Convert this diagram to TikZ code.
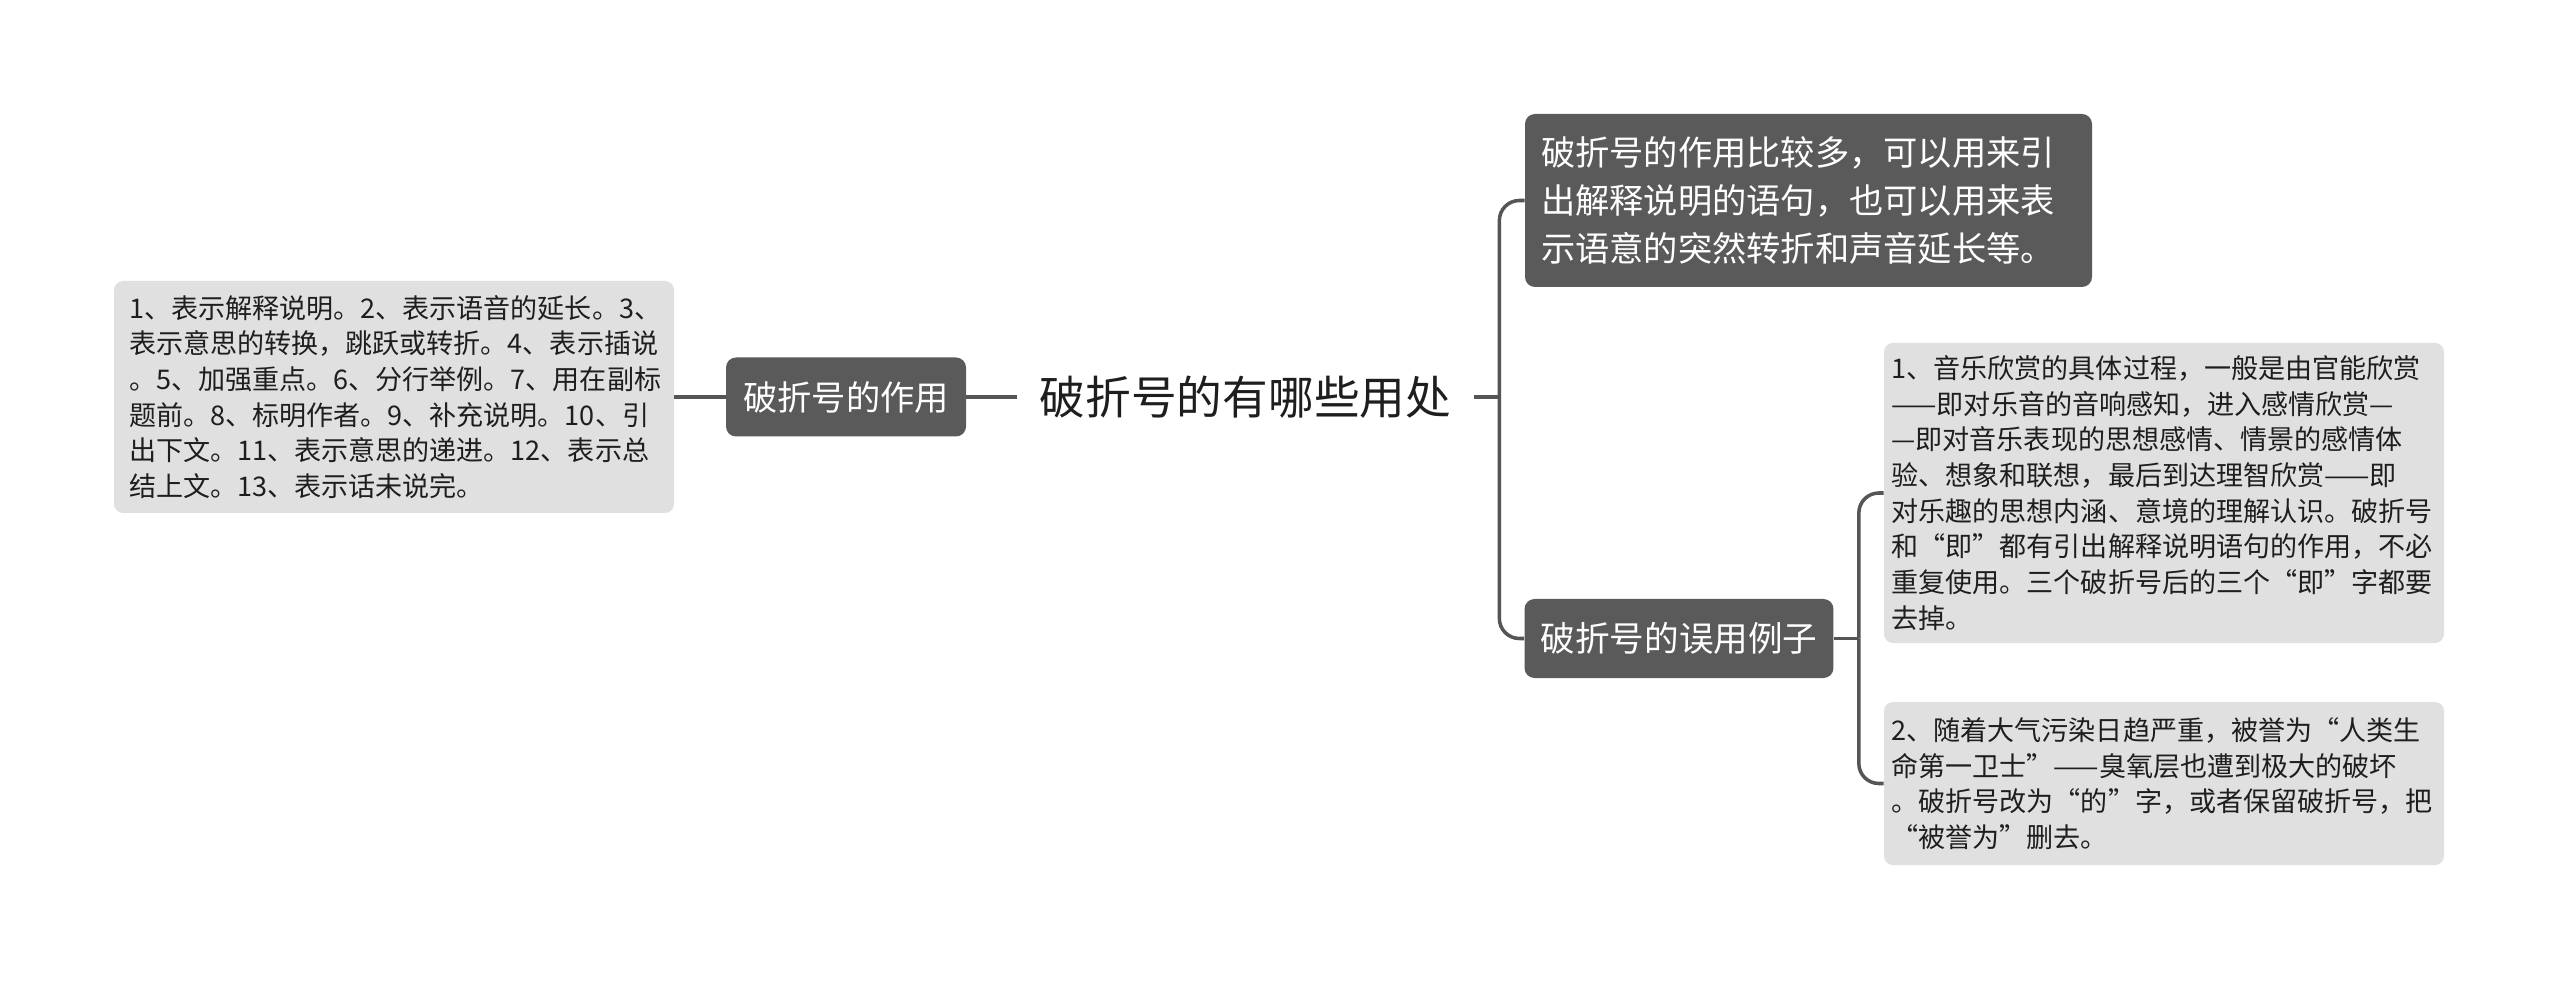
\documentclass[tikz,border=0pt]{standalone}
\usepackage{fontspec}
\setmainfont{Noto Sans CJK SC}
\usepackage{tikz}
\definecolor{nodedark}{HTML}{5A5A5A}
\definecolor{leafgray}{HTML}{E0E0E0}
\definecolor{linegray}{HTML}{555555}
\definecolor{inktext}{HTML}{1E1E1E}

\begin{document}
\begin{tikzpicture}[topic/.style={rounded corners=0.2cm, fill=nodedark, text=white, align=left, inner xsep=0.32cm, inner ysep=0cm, minimum height=1.58cm, font=\fontsize{19.5pt}{27.3pt}\selectfont}, leaf/.style={rounded corners=0.18cm, fill=leafgray, text=inktext, align=left, text width=10.9cm, inner xsep=0.15cm, inner ysep=0cm, font=\fontsize{15.4pt}{20.3pt}\selectfont}, link/.style={draw=linegray, line width=2pt}, elbow/.style={link, rounded corners=0.4cm}]
\fill[white] (0,0) rectangle (51.2,-19.64);
\node[text=inktext, minimum width=9.14cm, inner sep=0pt, font=\fontsize{26pt}{30pt}\selectfont] (root) at (24.91,-7.94) {破折号的有哪些用处};
\node[topic, minimum width=4.8cm, align=center] (uses) at (16.92,-7.94) {破折号的作用};
\node[leaf, minimum height=4.64cm, inner xsep=0.3cm, text width=10.6cm] (usesleaf) at (7.88,-7.94) {1、表示解释说明。2、表示语音的延长。3、\\表示意思的转换，跳跃或转折。4、表示插说\\。5、加强重点。6、分行举例。7、用在副标\\题前。8、标明作者。9、补充说明。10、引\\出下文。11、表示意思的递进。12、表示总\\结上文。13、表示话未说完。};
\node[topic, text width=10.7cm, minimum height=3.46cm] (intro) at (36.17,-4.01) {破折号的作用比较多，可以用来引\\出解释说明的语句，也可以用来表\\示语意的突然转折和声音延长等。};
\node[topic, minimum width=6.16cm, align=center, font=\fontsize{19.7pt}{27.3pt}\selectfont] (misuse) at (33.58,-12.77) {破折号的误用例子};
\node[leaf, minimum height=6.0cm] (exa) at (43.28,-9.86) {1、音乐欣赏的具体过程，一般是由官能欣赏\\——即对乐音的音响感知，进入感情欣赏—\\—即对音乐表现的思想感情、情景的感情体\\验、想象和联想，最后到达理智欣赏——即\\对乐趣的思想内涵、意境的理解认识。破折号\\和“即”都有引出解释说明语句的作用，不必\\重复使用。三个破折号后的三个“即”字都要\\去掉。};
\node[leaf, minimum height=3.26cm] (exb) at (43.28,-15.67) {2、随着大气污染日趋严重，被誉为“人类生\\命第一卫士”——臭氧层也遭到极大的破坏\\。破折号改为“的”字，或者保留破折号，把\\“被誉为”删去。};
\coordinate (rbus) at ([xshift=0.5cm]root.east);
\coordinate (mbus) at ([xshift=0.5cm]misuse.east);
\draw[link] (usesleaf) -- (uses);
\draw[link] (uses) -- (root);
\draw[link] (root.east) -- (rbus);
\draw[elbow] (rbus) |- (intro.west);
\draw[elbow] (rbus) |- (misuse.west);
\draw[link] (misuse.east) -- (mbus);
\draw[elbow] (mbus) |- (exa.west);
\draw[elbow] (mbus) |- (exb.west);
\end{tikzpicture}
\end{document}
